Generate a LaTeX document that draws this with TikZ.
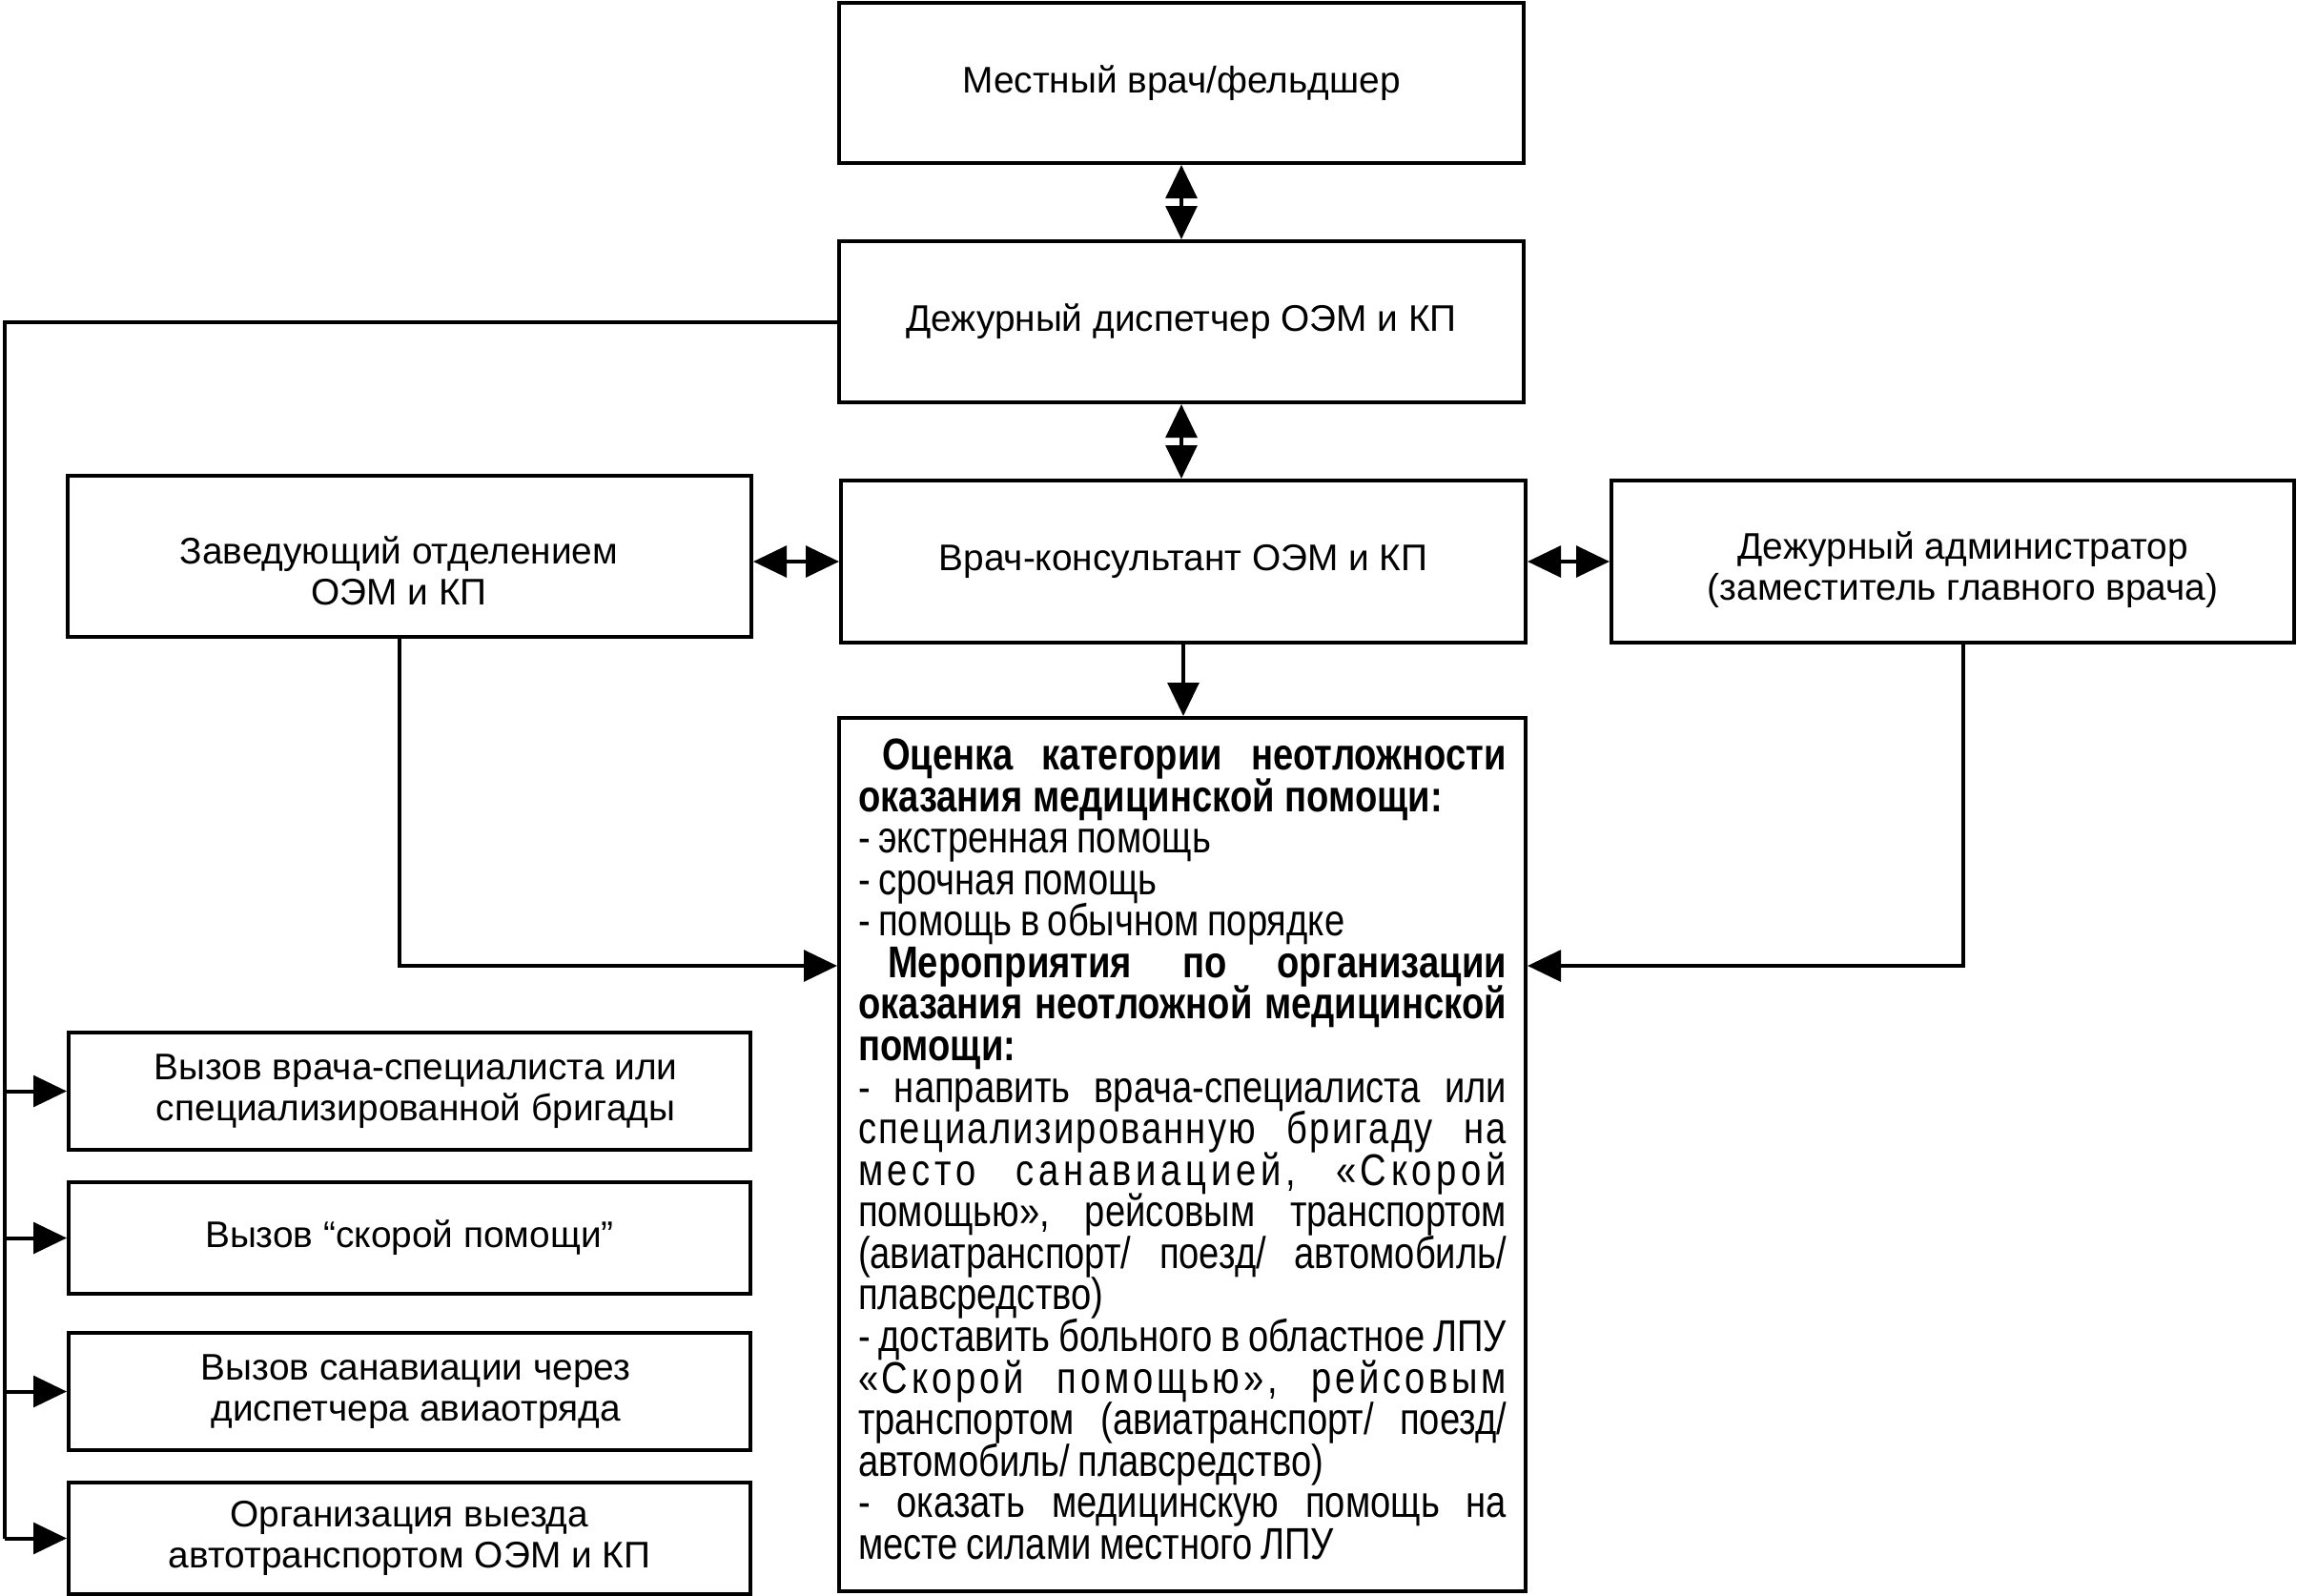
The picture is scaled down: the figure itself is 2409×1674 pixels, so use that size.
\documentclass[tikz,border=0pt]{standalone}
\usepackage{fontspec}
\setmainfont{Liberation Sans}
\newfontfamily\narrowfont[FakeStretch=0.818]{Liberation Sans}
\usetikzlibrary{arrows.meta}
\newlength\bw
\setlength\bw{204pt}
\newcommand\jline[1]{\leavevmode\hbox to\bw{\spaceskip=0.12em plus 1fil minus 0.05em\relax #1}}
\newcommand\lsp[1]{\addfontfeature{LetterSpace=#1}}
\newcommand\bhead[1]{{\spaceskip=0pt\bfseries #1}}
\begin{document}
\begin{tikzpicture}[x=0.3pt,y=-0.3pt,
  box/.style={draw, line width=1.2pt, align=center, inner sep=0pt,
    font=\fontsize{11.65}{12.9}\selectfont},
  txt/.style={align=center, inner sep=0pt, font=\fontsize{11.65}{12.9}\selectfont},
  tip/.tip={Triangle[length=10.5pt,width=9.8pt]},
  arr/.style={line width=1.2pt, -tip},
  dbl/.style={line width=1.2pt, tip-tip},
  ln/.style={line width=1.2pt}]
\useasboundingbox (0,0) rectangle (2409,1674);

\node[box, minimum width=215.4pt, minimum height=50.4pt] (b1) at (1239,87) {Местный врач/фельдшер};
\node[box, minimum width=215.4pt, minimum height=50.7pt] (b2) at (1239,337.5) {Дежурный диспетчер ОЭМ и КП};
\node[box, minimum width=215.4pt, minimum height=51pt] (b3) at (1241,589) {Врач-консультант ОЭМ и КП};
\node[box, minimum width=215.1pt, minimum height=50.7pt] (L) at (429.5,583.5) {};
\node[txt] (Lt) at ([xshift=-3.3pt,yshift=-4.5pt]L.center) {Заведующий отделением\\ОЭМ и КП};
\node[box, minimum width=214.8pt, minimum height=51pt] (R) at (2048,589) {};
\node[txt] (Rt) at ([xshift=3.2pt,yshift=-2.7pt]R.center) {Дежурный администратор\\(заместитель главного врача)};

\node[box, minimum width=216pt, minimum height=274.8pt] (big) at (1240,1211) {};
\node[align=left, inner sep=0pt, text width=204pt,
  font={\narrowfont\fontsize{14}{13.07}\selectfont\lineskiplimit=-20pt\frenchspacing}]
  (bigt) at ([yshift=1.7pt]big.center) {\spaceskip=0.18em plus 0.1em\relax
\jline{\bfseries\hspace*{7.5pt}Оценка категории неотложности}\\
\bhead{оказания медицинской помощи:}\\
- экстренная помощь\\
- срочная помощь\\
- помощь в обычном порядке\\
\jline{\bfseries\hspace*{9.3pt}Мероприятия по организации}\\
\jline{\bfseries оказания неотложной медицинской}\\
\bhead{помощи:}\\
\jline{- направить врача-специалиста или}\\
\jline{\lsp{4.5}специализированную бригаду на}\\
\jline{\lsp{10}место санавиацией, «Скорой}\\
\jline{помощью», рейсовым транспортом}\\
\jline{(авиатранспорт/ поезд/ автомобиль/}\\
плавсредство)\\
\jline{- доставить больного в областное ЛПУ}\\
\jline{\lsp{8}«Скорой помощью», рейсовым}\\
\jline{транспортом (авиатранспорт/ поезд/}\\
автомобиль/ плавсредство)\\
\jline{- оказать медицинскую помощь на}\\
месте силами местного ЛПУ};

\node[box, minimum width=214.5pt, minimum height=36.9pt] (A) at (429.5,1144.5) {};
\node[txt] (At) at ([xshift=2pt]A.center) {Вызов врача-специалиста или\\специализированной бригады};
\node[box, minimum width=214.5pt, minimum height=35.1pt] (B) at (429.5,1298.5) {Вызов “скорой помощи”};
\node[box, minimum width=214.5pt, minimum height=36.9pt] (C) at (429.5,1459.5) {};
\node[txt] (Ct) at ([xshift=2pt]C.center) {Вызов санавиации через\\диспетчера авиаотряда};
\node[box, minimum width=214.5pt, minimum height=35.1pt] (D) at (429.5,1613.5) {Организация выезда\\автотранспортом ОЭМ и КП};

\draw[dbl] (b1.south) -- (b2.north);
\draw[dbl] (b2.south) -- (b2.south |- b3.north);
\draw[dbl] (b3.west -| L.east) -- (b3.west);
\draw[dbl] (b3.east) -- (R.west);
\draw[arr] (b3.south) -- (b3.south |- big.north);
\draw[arr] ([xshift=-3.15pt]L.south) |- ([yshift=59.4pt]big.west);
\draw[arr] ([xshift=3.3pt]R.south) |- ([yshift=59.4pt]big.east);

\coordinate (bus) at (5,337.5);
\draw[ln] (b2.west) -- (bus) -- (bus |- D.west);
\draw[arr] (bus |- A.west) -- (A.west);
\draw[arr] (bus |- B.west) -- (B.west);
\draw[arr] (bus |- C.west) -- (C.west);
\draw[arr] (bus |- D.west) -- (D.west);
\end{tikzpicture}
\end{document}
